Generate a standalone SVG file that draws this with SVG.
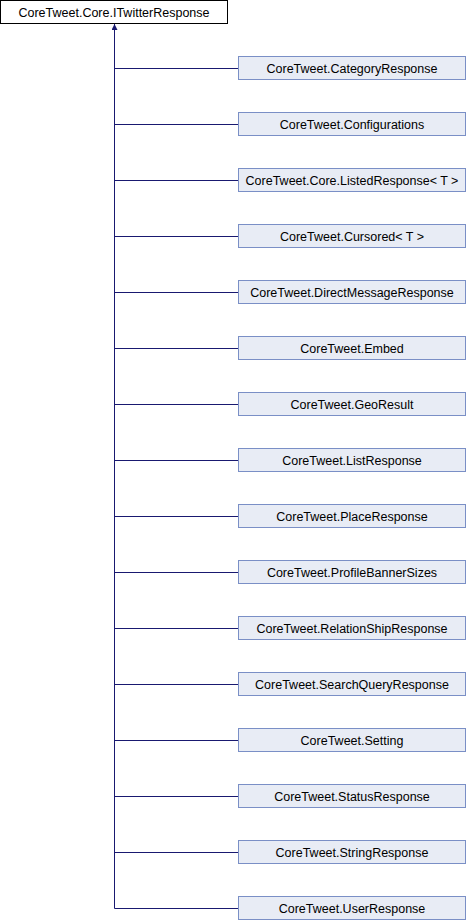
<svg xmlns="http://www.w3.org/2000/svg" width="466" height="920" viewBox="0 0 466 920">
<style>
.base rect{fill:#ffffff;stroke:#000000;stroke-width:1}
.node rect{fill:#E8ECF5;stroke:#7A8FC6;stroke-width:1}
text{font-family:"Liberation Sans",Arial,sans-serif;font-size:12.5px;fill:#000;text-anchor:middle}
.edge{stroke:#191970;stroke-width:1;fill:none}
</style>
<defs>
<marker id="arr" viewBox="0 0 10 10" refX="10" refY="5" markerWidth="7" markerHeight="6" markerUnits="userSpaceOnUse" orient="auto">
<path d="M0,0 L10,5 L0,10 z" fill="#191970"/>
</marker>
</defs>
<g id="edges">
<path class="edge" d="M114.5,908.5 L114.5,24" marker-end="url(#arr)"/>
<path class="edge" d="M114.5,68.5H238M114.5,124.5H238M114.5,180.5H238M114.5,236.5H238M114.5,292.5H238M114.5,348.5H238M114.5,404.5H238M114.5,460.5H238M114.5,516.5H238M114.5,572.5H238M114.5,628.5H238M114.5,684.5H238M114.5,740.5H238M114.5,796.5H238M114.5,852.5H238M114.5,908.5H238"/>
</g>
<g id="n0" class="base"><rect x="0.5" y="0.5" width="227" height="23"/><text x="114" y="16.5">CoreTweet.Core.ITwitterResponse</text></g>
<g id="n1" class="node"><rect x="238.5" y="56.5" width="227" height="23"/><text x="352" y="72.5">CoreTweet.CategoryResponse</text></g>
<g id="n2" class="node"><rect x="238.5" y="112.5" width="227" height="23"/><text x="352" y="128.5">CoreTweet.Configurations</text></g>
<g id="n3" class="node"><rect x="238.5" y="168.5" width="227" height="23"/><text x="352" y="184.5">CoreTweet.Core.ListedResponse&lt; T &gt;</text></g>
<g id="n4" class="node"><rect x="238.5" y="224.5" width="227" height="23"/><text x="352" y="240.5">CoreTweet.Cursored&lt; T &gt;</text></g>
<g id="n5" class="node"><rect x="238.5" y="280.5" width="227" height="23"/><text x="352" y="296.5">CoreTweet.DirectMessageResponse</text></g>
<g id="n6" class="node"><rect x="238.5" y="336.5" width="227" height="23"/><text x="352" y="352.5">CoreTweet.Embed</text></g>
<g id="n7" class="node"><rect x="238.5" y="392.5" width="227" height="23"/><text x="352" y="408.5">CoreTweet.GeoResult</text></g>
<g id="n8" class="node"><rect x="238.5" y="448.5" width="227" height="23"/><text x="352" y="464.5">CoreTweet.ListResponse</text></g>
<g id="n9" class="node"><rect x="238.5" y="504.5" width="227" height="23"/><text x="352" y="520.5">CoreTweet.PlaceResponse</text></g>
<g id="n10" class="node"><rect x="238.5" y="560.5" width="227" height="23"/><text x="352" y="576.5">CoreTweet.ProfileBannerSizes</text></g>
<g id="n11" class="node"><rect x="238.5" y="616.5" width="227" height="23"/><text x="352" y="632.5">CoreTweet.RelationShipResponse</text></g>
<g id="n12" class="node"><rect x="238.5" y="672.5" width="227" height="23"/><text x="352" y="688.5">CoreTweet.SearchQueryResponse</text></g>
<g id="n13" class="node"><rect x="238.5" y="728.5" width="227" height="23"/><text x="352" y="744.5">CoreTweet.Setting</text></g>
<g id="n14" class="node"><rect x="238.5" y="784.5" width="227" height="23"/><text x="352" y="800.5">CoreTweet.StatusResponse</text></g>
<g id="n15" class="node"><rect x="238.5" y="840.5" width="227" height="23"/><text x="352" y="856.5">CoreTweet.StringResponse</text></g>
<g id="n16" class="node"><rect x="238.5" y="896.5" width="227" height="23"/><text x="352" y="912.5">CoreTweet.UserResponse</text></g>
</svg>
